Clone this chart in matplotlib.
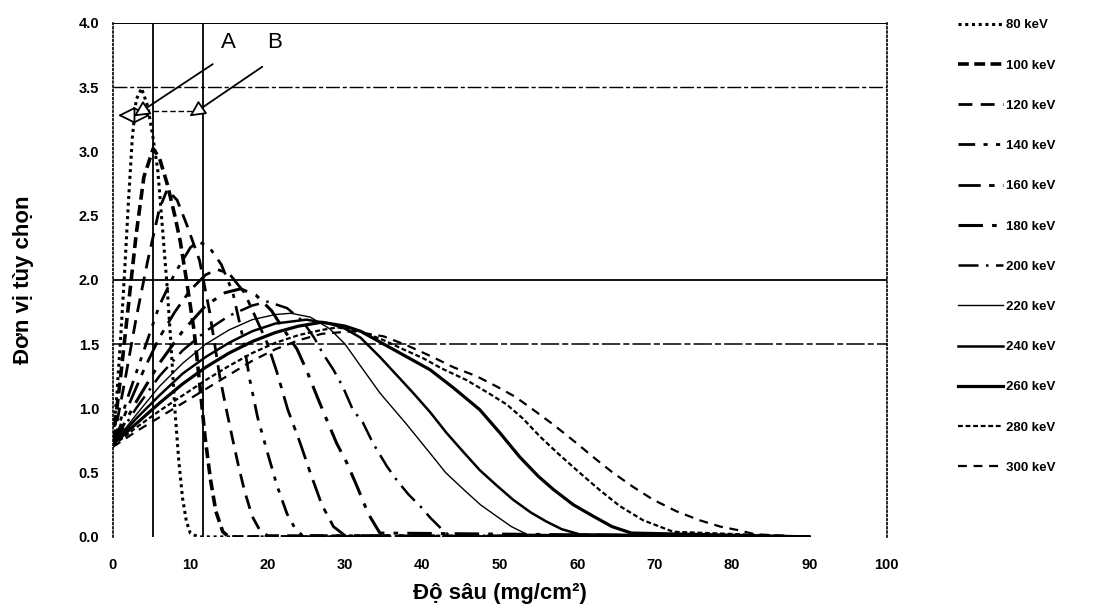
import numpy as np
import matplotlib.pyplot as plt

plt.rcParams['font.family'] = ['Liberation Sans', 'DejaVu Sans']

# ====== data ======
energies = ['80 keV', '100 keV', '120 keV', '140 keV', '160 keV', '180 keV', '200 keV',
            '220 keV', '240 keV', '260 keV', '280 keV', '300 keV']

x_80 = [0, 0.5, 1, 1.5, 2, 2.5, 3, 3.7, 4.5, 5.2, 5.8, 6.5, 7, 7.5, 8, 8.5, 9, 9.5, 10, 11, 90]
y_80 = [0.75, 1.1, 1.55, 2.05, 2.6, 3.1, 3.4, 3.49, 3.35, 3.1, 2.85, 2.33, 1.95, 1.5, 1.0, 0.6, 0.3, 0.12, 0.03, 0, 0]

x_100 = [0, 1, 2, 3, 4, 5.2, 6, 7, 8, 8.7, 9.5, 10.5, 11.2, 11.9, 12.6, 13.3, 14.2, 15, 90]
y_100 = [0.74, 1.25, 1.8, 2.35, 2.8, 3.02, 2.95, 2.75, 2.5, 2.3, 2.0, 1.6, 1.2, 0.78, 0.45, 0.2, 0.04, 0, 0]

x_120 = [0, 1.5, 3, 4.5, 6, 7, 8.3, 9.6, 11.2, 12.5, 13.8, 14.7, 15.4, 16.2, 17, 18, 19, 20, 90]
y_120 = [0.73, 1.2, 1.7, 2.15, 2.55, 2.7, 2.62, 2.42, 2.15, 1.75, 1.25, 0.98, 0.78, 0.56, 0.36, 0.16, 0.05, 0.01, 0]

x_140 = [0, 2, 4, 6, 8, 10, 11, 12.5, 14, 15.5, 16.8, 17.7, 18.7, 20, 21.2, 22.5, 23.5, 24.5, 90]
y_140 = [0.72, 1.1, 1.45, 1.8, 2.05, 2.25, 2.3, 2.25, 2.12, 1.9, 1.55, 1.22, 0.93, 0.65, 0.4, 0.18, 0.07, 0.01, 0]

x_160 = [0, 2, 4, 6, 8, 10, 12, 13.5, 15, 17, 18.5, 20, 21.2, 22.6, 24.2, 25.5, 27, 28.5, 30, 90]
y_160 = [0.72, 1.02, 1.3, 1.55, 1.75, 1.92, 2.04, 2.08, 2.05, 1.9, 1.7, 1.5, 1.28, 0.99, 0.73, 0.5, 0.25, 0.08, 0.01, 0]

x_180 = [0, 3, 6, 9, 12, 14.5, 16.5, 18.5, 20.5, 22, 23.8, 25, 26.4, 27.5, 28.9, 30.2, 31.5, 33, 34.5, 90]
y_180 = [0.72, 1.05, 1.35, 1.6, 1.8, 1.9, 1.93, 1.88, 1.76, 1.62, 1.46, 1.3, 1.09, 0.93, 0.73, 0.58, 0.4, 0.18, 0.03, 0]

x_200 = [0, 3, 6, 9, 12, 15, 18, 20, 22.5, 24.5, 26, 27.1, 28.5, 29.7, 31, 32.3, 33.6, 35.4, 36.7,
         38.2, 39.7, 41, 42.5, 43.5, 90]
y_200 = [0.72, 1.0, 1.25, 1.45, 1.6, 1.72, 1.8, 1.83, 1.78, 1.68, 1.55, 1.43, 1.3, 1.17, 0.99, 0.89, 0.73,
         0.55, 0.44, 0.33, 0.24, 0.15, 0.06, 0.01, 0]

x_220 = [0, 3, 6, 9, 12, 15, 18, 21, 23, 25.5, 28, 30, 32, 34.5, 37.9, 41, 43, 45.3, 47.5, 49.6, 51.5, 53.5, 90]
y_220 = [0.72, 0.95, 1.17, 1.35, 1.5, 1.61, 1.69, 1.73, 1.74, 1.71, 1.62, 1.5, 1.33, 1.12, 0.88, 0.65, 0.5,
         0.37, 0.25, 0.16, 0.08, 0.02, 0]

x_240 = [0, 3, 6, 9, 12, 15, 18, 21, 25, 28, 30, 32, 34.5, 36.5, 38.8, 41, 43.1, 45.3, 47.4, 49.6, 51.7,
         54, 56, 58, 60.3, 90]
y_240 = [0.72, 0.92, 1.1, 1.27, 1.4, 1.51, 1.6, 1.66, 1.69, 1.66, 1.62, 1.55, 1.4, 1.27, 1.12, 0.97, 0.81,
         0.66, 0.52, 0.4, 0.29, 0.19, 0.12, 0.06, 0.02, 0]

x_260 = [0, 3, 6, 9, 12, 15, 18, 21, 24, 27, 30, 32, 35, 38, 41, 44, 47.4, 50, 52.6, 55, 56.9, 59.5,
         62.1, 64.5, 67, 90]
y_260 = [0.72, 0.88, 1.04, 1.19, 1.32, 1.43, 1.52, 1.59, 1.64, 1.67, 1.64, 1.6, 1.5, 1.4, 1.3, 1.16, 0.99,
         0.81, 0.62, 0.47, 0.37, 0.25, 0.16, 0.08, 0.03, 0]

x_280 = [0, 3, 6, 9, 12, 15, 18, 21, 24, 27, 29, 32, 35, 37.5, 40.1, 42.5, 45.7, 48.5, 50.9, 53, 55.2,
         57.5, 60.3, 63, 65.5, 68.5, 72.4, 90]
y_280 = [0.71, 0.85, 0.98, 1.1, 1.22, 1.33, 1.43, 1.51, 1.57, 1.61, 1.63, 1.6, 1.53, 1.46, 1.39, 1.31,
         1.22, 1.12, 1.03, 0.92, 0.78, 0.65, 0.5, 0.36, 0.24, 0.13, 0.04, 0]

x_300 = [0, 3, 6, 9, 12, 15, 18, 21, 24, 27, 31, 35, 38, 41.3, 44, 47, 49.6, 52, 54.3, 57, 59.9, 62.3,
         64.6, 67.2, 69.8, 72.8, 75.8, 78.5, 81, 83, 90]
y_300 = [0.7, 0.82, 0.93, 1.04, 1.15, 1.26, 1.37, 1.46, 1.53, 1.58, 1.6, 1.56, 1.49, 1.4, 1.32, 1.25,
         1.17, 1.09, 0.99, 0.87, 0.73, 0.61, 0.5, 0.39, 0.29, 0.2, 0.13, 0.08, 0.05, 0.02, 0]

curves_x = [x_80, x_100, x_120, x_140, x_160, x_180, x_200, x_220, x_240, x_260, x_280, x_300]
curves_y = [y_80, y_100, y_120, y_140, y_160, y_180, y_200, y_220, y_240, y_260, y_280, y_300]

# line styles (dash pattern, width) per energy, following the legend
styles = [
    dict(linestyle=(0, (1, 1.2)), lw=2.2),
    dict(linestyle=(0, (3, 1.5)), lw=2.6),
    dict(linestyle=(0, (5, 3)), lw=2.0),
    dict(linestyle=(0, (6, 3, 1.5, 3, 1.5, 3)), lw=2.0),
    dict(linestyle=(0, (8, 3, 2, 3)), lw=2.0),
    dict(linestyle=(0, (8, 3, 1.5, 3)), lw=2.2),
    dict(linestyle=(0, (8, 3, 1, 3)), lw=1.8),
    dict(linestyle='-', lw=1.0),
    dict(linestyle='-', lw=1.8),
    dict(linestyle='-', lw=2.3),
    dict(linestyle=(0, (2.2, 1.2)), lw=1.6),
    dict(linestyle=(0, (4, 3)), lw=1.6),
]

line_A = 5.2
line_B = 11.6

# ====== plot ======
fig = plt.figure(figsize=(11.07, 6.15), dpi=100)
ax = fig.add_axes([0.102, 0.127, 0.699, 0.836])

for xs, ys, lab, st in zip(curves_x, curves_y, energies, styles):
    ax.plot(xs, ys, color='black', label=lab, **st)

# grid lines that survived the scan
ax.axhline(4.0, color='black', lw=1.4)
ax.axhline(3.5, color='black', lw=1.0, linestyle=(0, (10, 2, 3, 2)))
ax.axhline(2.0, color='black', lw=1.3)
ax.axhline(1.5, color='black', lw=1.1, linestyle=(0, (12, 2, 4, 2)))

# marker lines A and B
ax.plot([line_A, line_A], [0, 4.0], color='black', lw=1.3)
ax.plot([line_B, line_B], [0, 4.0], color='black', lw=1.3)

# hollow arrows
ax.annotate('', xy=(0.3, 3.28), xytext=(line_A, 3.28),
            arrowprops=dict(arrowstyle='<|-|>', fc='white', ec='black', lw=1.3, mutation_scale=26))
ax.plot([line_A, line_B], [3.31, 3.31], color='black', lw=1.0, linestyle=(0, (4, 2)))
ax.annotate('', xy=(2.4, 3.26), xytext=(13.2, 3.69),
            arrowprops=dict(arrowstyle='-|>', fc='white', ec='black', lw=1.3, mutation_scale=24))
ax.annotate('', xy=(9.6, 3.26), xytext=(19.6, 3.67),
            arrowprops=dict(arrowstyle='-|>', fc='white', ec='black', lw=1.3, mutation_scale=24))
ax.text(14.9, 3.85, 'A', fontsize=16, ha='center', va='center')
ax.text(20.9, 3.85, 'B', fontsize=16, ha='center', va='center')

ax.set_xlim(0, 100)
ax.set_ylim(0, 4.0)
ax.set_xticks(np.arange(0, 101, 10))
ax.set_yticks(np.arange(0, 4.01, 0.5))
ax.set_yticklabels([f"{v:.1f}" for v in np.arange(0, 4.01, 0.5)])
ax.tick_params(length=0, labelsize=10.5)
ax.tick_params(axis='x', pad=15)
ax.tick_params(axis='y', pad=10)
for lbl in ax.get_xticklabels() + ax.get_yticklabels():
    lbl.set_fontweight('bold')

for side in ['top', 'bottom']:
    ax.spines[side].set_visible(False)
for side in ['left', 'right']:
    ax.spines[side].set_linestyle((0, (1, 1.5)))
    ax.spines[side].set_linewidth(1.2)

ax.set_xlabel('Độ sâu (mg/cm²)', fontsize=16, fontweight='bold', labelpad=8)
ax.set_ylabel('Đơn vị tùy chọn', fontsize=16, fontweight='bold', labelpad=32)

leg = fig.legend(loc='upper left', bbox_to_anchor=(0.855, 0.988), frameon=False,
                 fontsize=9.5, handlelength=3.4, handletextpad=0.2, labelspacing=2.12)
for t in leg.get_texts():
    t.set_fontweight('bold')

plt.savefig('out.png', dpi=100)
plt.close(fig)
